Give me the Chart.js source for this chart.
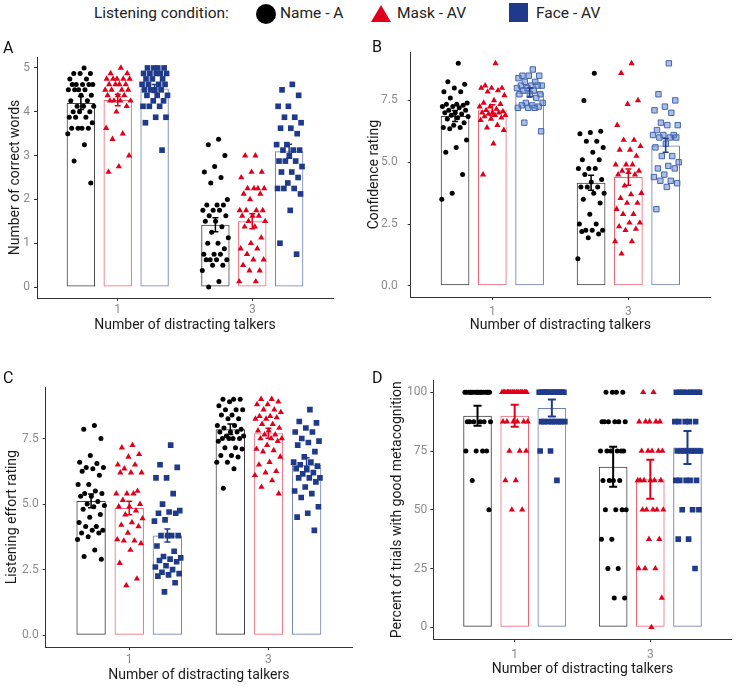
<!DOCTYPE html>
<html>
<head>
<meta charset="utf-8">
<script src="https://cdn.jsdelivr.net/npm/chart.js@4.4.0/dist/chart.umd.min.js"></script>
<style>
  body { margin: 0; background: #fff; width: 741px; height: 687px; position: relative; overflow: hidden; font-family: Roboto, sans-serif; }
  .box { position: absolute; }
  .lab { position: absolute; font-size: 16px; color: #111; line-height: 1; }
  .leg { position: absolute; font-size: 15.5px; color: #222; line-height: 1; white-space: nowrap; }
  .sym { position: absolute; }
</style>
</head>
<body>
<!-- legend -->
<div class="leg" style="left:94px;top:6px">Listening condition:</div>
<div class="sym" style="left:256px;top:4px;width:20px;height:20px;border-radius:50%;background:#000"></div>
<div class="leg" style="left:280px;top:6px">Name - A</div>
<div class="sym" style="left:371px;top:5px;width:0;height:0;border-left:10.5px solid transparent;border-right:10.5px solid transparent;border-bottom:17px solid #E0001B"></div>
<div class="leg" style="left:397px;top:6px">Mask - AV</div>
<div class="sym" style="left:509px;top:3px;width:19px;height:19px;background:#1f3a8a"></div>
<div class="leg" style="left:536px;top:6px">Face - AV</div>

<div class="box" style="left:0;top:35px;width:370px;height:300px"><canvas id="cA" width="370" height="300"></canvas></div>
<div class="box" style="left:366px;top:35px;width:375px;height:300px"><canvas id="cB" width="375" height="300"></canvas></div>
<div class="box" style="left:0;top:335px;width:370px;height:352px"><canvas id="cC" width="370" height="352"></canvas></div>
<div class="box" style="left:370px;top:335px;width:371px;height:352px"><canvas id="cD" width="371" height="352"></canvas></div>

<div class="lab" style="left:3px;top:40px">A</div>
<div class="lab" style="left:372px;top:39px">B</div>
<div class="lab" style="left:3px;top:370px">C</div>
<div class="lab" style="left:372px;top:370px">D</div>

<script>
// categories
const talkers = ['1', '3'];
const talkerPos = [1, 2];
const conditions = ['Name - A', 'Mask - AV', 'Face - AV'];

// Panel A - number of correct words (means / SE per condition: [1 talker, 3 talkers])
const aMeans = [[4.2, 1.42], [4.27, 1.5], [4.53, 3.1]];
const aErrs = [[0.15, 0.16], [0.13, 0.17], [0.09, 0.16]];
const aTicks = [0, 1, 2, 3, 4, 5];
const aName1 = [5, 4.875, 4.875, 4.875, 4.75, 4.75, 4.625, 4.625, 4.625, 4.625, 4.625, 4.5, 4.5, 4.5, 4.5, 4.375, 4.375, 4.25, 4.25, 4.125, 4.125, 4.125, 4, 4, 4, 3.875, 3.875, 3.875, 3.75, 3.625, 3.625, 3.625, 3.625, 3.5, 3.25, 2.875, 2.375];
const aMask1 = [5, 4.875, 4.875, 4.75, 4.75, 4.75, 4.75, 4.75, 4.625, 4.625, 4.625, 4.625, 4.5, 4.5, 4.5, 4.5, 4.375, 4.375, 4.375, 4.25, 4.25, 4.25, 4.25, 4.125, 4, 3.625, 3.5, 3.375, 3, 2.75, 2.625];
const aFace1 = [5, 5, 5, 5, 4.875, 4.875, 4.875, 4.875, 4.875, 4.75, 4.75, 4.75, 4.625, 4.625, 4.625, 4.625, 4.5, 4.5, 4.5, 4.5, 4.375, 4.375, 4.375, 4.25, 4.25, 4.125, 4.125, 4.125, 3.875, 3.875, 3.75, 3.125];
const aName3 = [3.375, 3.25, 3, 2.75, 2.625, 2.5, 2.375, 2, 1.875, 1.875, 1.875, 1.75, 1.75, 1.75, 1.625, 1.625, 1.5, 1.5, 1.375, 1.25, 1.125, 1, 1, 0.875, 0.75, 0.75, 0.75, 0.625, 0.625, 0.625, 0.625, 0.5, 0.5, 0.375, 0.125, 0];
const aMask3 = [3, 3, 2.625, 2.625, 2.5, 2.25, 2.25, 2.25, 2.25, 2.125, 2.125, 2, 1.75, 1.75, 1.75, 1.75, 1.625, 1.625, 1.625, 1.5, 1.5, 1.375, 1.375, 1.125, 1, 0.875, 0.875, 0.75, 0.625, 0.625, 0.5, 0.375, 0.375, 0.125, 0.125];
const aFace3 = [4.625, 4.5, 4.375, 4.125, 4.125, 3.875, 3.875, 3.75, 3.625, 3.625, 3.5, 3.25, 3.25, 3.125, 3.125, 3.125, 3, 2.875, 2.875, 2.875, 2.75, 2.625, 2.625, 2.5, 2.375, 2.25, 2.25, 2.25, 2.125, 1.75, 1, 0.75];

// Panel B - confidence rating
const bMeans = [[6.87, 4.17], [7.1, 4.4], [7.82, 5.68]];
const bErrs = [[0.22, 0.3], [0.22, 0.33], [0.18, 0.28]];
const bTicks = [0, 2.5, 5, 7.5];
const bName1 = [9, 8.25, 8.15, 8, 7.85, 7.85, 7.6, 7.4, 7.35, 7.35, 7.3, 7.25, 7.25, 7.2, 7.1, 7.1, 7, 7, 6.95, 6.9, 6.85, 6.8, 6.75, 6.6, 6.5, 6.4, 6.4, 6.35, 5.9, 5.6, 5.4, 4.5, 3.75, 3.5];
const bMask1 = [9, 8.1, 8, 8, 8, 7.9, 7.85, 7.7, 7.5, 7.4, 7.35, 7.25, 7.25, 7.15, 7.1, 7.05, 7, 7, 7, 6.95, 6.9, 6.9, 6.85, 6.8, 6.75, 6.7, 6.5, 6.4, 6.3, 5.75, 4.5];
const bFace1 = [8.75, 8.5, 8.5, 8.5, 8.4, 8.25, 8.25, 8.1, 8.1, 8.1, 8.1, 8, 8, 7.9, 7.9, 7.75, 7.75, 7.75, 7.6, 7.4, 7.4, 7.3, 7.3, 7.25, 7.2, 7.2, 7.2, 6.6, 6.25];
const bName3 = [8.6, 7.5, 6.25, 6.2, 6.15, 5.85, 5.85, 5.6, 5.4, 5.1, 5.1, 4.75, 4.75, 4.75, 4.5, 4.3, 4.2, 4, 4, 4, 3.75, 3.75, 3.5, 3.35, 2.9, 2.5, 2.5, 2.25, 2.25, 2.25, 2.2, 2.1, 1.95, 1.1];
const bMask3 = [9, 8.6, 7.5, 7.35, 6.5, 5.9, 5.9, 5.65, 5.5, 5.5, 5.25, 4.9, 4.9, 4.9, 4.65, 4.65, 4.6, 4.5, 4.5, 4.05, 3.75, 3.7, 3.55, 3.35, 3.35, 3.1, 2.9, 2.9, 2.55, 2.55, 2.4, 2.3, 2.25, 1.8, 1.8, 1.3];
const bFace3 = [9, 7.75, 7.5, 7.25, 7.1, 7, 6.6, 6.5, 6.5, 6.3, 6.1, 6.1, 6.1, 6, 6, 6, 5.75, 5.6, 5.25, 5.25, 5, 4.85, 4.75, 4.75, 4.5, 4.4, 4.25, 4.25, 4.15, 4, 3.1];

// Panel C - listening effort rating
const cMeans = [[5.12, 7.85], [4.85, 7.7], [3.8, 6.5]];
const cErrs = [[0.26, 0.2], [0.26, 0.19], [0.25, 0.27]];
const cTicks = [0, 2.5, 5, 7.5];
const cName1 = [8, 7.85, 7.5, 6.85, 6.6, 6.55, 6.4, 6.4, 6.35, 6.25, 6.1, 5.75, 5.75, 5.5, 5.4, 5.4, 5.3, 5.3, 5.1, 5, 4.95, 4.9, 4.8, 4.6, 4.5, 4.3, 4.15, 4.15, 4, 4, 3.9, 3.9, 3.75, 3.65, 3.25, 3, 2.9];
const cMask1 = [7.25, 7.15, 6.9, 6.8, 6.5, 6.5, 6.35, 6.2, 6.2, 6.2, 5.5, 5.4, 5.4, 5.4, 5.15, 5, 4.9, 4.9, 4.75, 4.6, 4.45, 4.3, 4.2, 4.15, 3.9, 3.65, 3.6, 3.6, 3.5, 3.25, 2.75, 2.15, 1.9];
const cFace1 = [7.25, 6.5, 6.4, 6, 6, 5.4, 5, 4.75, 4.7, 4.65, 4.65, 4.4, 4.35, 3.8, 3.8, 3.8, 3.8, 3.4, 3.2, 3, 2.95, 2.9, 2.85, 2.8, 2.65, 2.6, 2.5, 2.4, 2.35, 2.3, 2.25, 2, 1.65];
const cName3 = [9, 9, 9, 8.9, 8.75, 8.6, 8.6, 8.6, 8.4, 8.4, 8.25, 8.25, 8, 8, 7.9, 7.85, 7.75, 7.75, 7.75, 7.6, 7.6, 7.5, 7.5, 7.5, 7.5, 7.4, 7.15, 7.15, 7.1, 6.85, 6.85, 6.8, 6.6, 6.6, 6.35, 5.6];
const cMask3 = [9, 9, 8.9, 8.8, 8.8, 8.6, 8.6, 8.5, 8.35, 8.35, 8.3, 8.25, 8.25, 8.05, 8.05, 7.9, 7.8, 7.8, 7.65, 7.65, 7.5, 7.5, 7.5, 7.4, 7.25, 7.1, 7.05, 7, 6.8, 6.6, 6.5, 6.25, 6.2, 6.1, 5.9, 5.65, 5.4];
const cFace3 = [8.6, 8.15, 8.1, 7.9, 7.75, 7.75, 7.5, 7.4, 7.35, 7.25, 7, 6.8, 6.6, 6.6, 6.5, 6.45, 6.35, 6.35, 6.2, 6.15, 6, 6, 6, 5.85, 5.65, 5.5, 5.4, 5.25, 4.9, 4.65, 4.5, 4];

// Panel D - percent of trials with good metacognition
const dMeans = [[90, 68.3], [90, 63], [93.3, 76.5]];
const dErrs = [[4.3, 8.5], [4.7, 8.3], [3.6, 7]];
const dTicks = [0, 25, 50, 75, 100];
const dName1 = [100, 100, 100, 100, 100, 100, 100, 100, 100, 100, 100, 100, 100, 100, 100, 100, 100, 87.5, 87.5, 87.5, 87.5, 87.5, 87.5, 75, 75, 75, 75, 62.5, 50];
const dMask1 = [100, 100, 100, 100, 100, 100, 100, 100, 100, 100, 100, 100, 100, 100, 100, 100, 100, 100, 100, 100, 87.5, 87.5, 87.5, 87.5, 87.5, 87.5, 75, 75, 75, 62.5, 62.5, 50, 50];
const dFace1 = [100, 100, 100, 100, 100, 100, 100, 100, 100, 100, 100, 100, 100, 100, 100, 100, 87.5, 87.5, 87.5, 87.5, 87.5, 87.5, 87.5, 87.5, 75, 75, 62.5];
const dName3 = [100, 100, 100, 100, 87.5, 87.5, 87.5, 87.5, 87.5, 87.5, 75, 75, 75, 75, 75, 75, 62.5, 62.5, 62.5, 62.5, 50, 50, 50, 50, 37.5, 37.5, 25, 25, 12.5, 12.5];
const dMask3 = [100, 100, 87.5, 87.5, 87.5, 87.5, 87.5, 75, 75, 75, 75, 75, 62.5, 62.5, 62.5, 62.5, 62.5, 62.5, 50, 50, 50, 50, 50, 37.5, 37.5, 25, 25, 25, 12.5, 0];
const dFace3 = [100, 100, 100, 100, 100, 100, 100, 100, 87.5, 87.5, 87.5, 87.5, 87.5, 75, 75, 75, 75, 75, 75, 75, 75, 62.5, 62.5, 62.5, 62.5, 62.5, 50, 50, 50, 37.5, 37.5, 25];

// look
const colors = ['#000000', '#E0001B', '#1f3a8a'];
const barEdge = ['rgba(0,0,0,0.75)', 'rgba(224,0,27,0.6)', 'rgba(31,58,138,0.65)'];
const shapes = ['circle', 'triangle', 'rect'];
const radii = [2.5, 3.6, 4];
const catPct = 0.822;
const barPct = 0.77;
const tickGrey = '#8c8c8c';

// spread the points sideways inside their bar (golden ratio sequence)
function jitter(i) {
	return (((i + 1) * 0.6180339887) % 1 - 0.5) * 0.2;
}

/** draws the mean +/- SE bars on top of everything */
const errorBars = {
	id: 'errorBars',
	afterDatasetsDraw(chart, args, opts) {
		const ctx = chart.ctx;
		const y = chart.scales.y;
		chart.data.datasets.forEach(function(ds, i) {
			if (!ds.err) return;
			const meta = chart.getDatasetMeta(i);
			meta.data.forEach(function(bar, j) {
				const m = ds.data[j].y, e = ds.err[j];
				const top = y.getPixelForValue(m + e);
				const bot = y.getPixelForValue(m - e);
				ctx.save();
				ctx.strokeStyle = ds.errColor;
				ctx.lineWidth = opts.width;
				ctx.beginPath();
				ctx.moveTo(bar.x, top); ctx.lineTo(bar.x, bot);
				ctx.moveTo(bar.x - opts.cap, top); ctx.lineTo(bar.x + opts.cap, top);
				ctx.moveTo(bar.x - opts.cap, bot); ctx.lineTo(bar.x + opts.cap, bot);
				ctx.stroke();
				ctx.restore();
			});
		});
	}
};

function makePanel(id, p) {
	const datasets = [];
	for (let k = 0; k < 3; k++) {
		datasets.push({
			type: 'bar',
			label: conditions[k],
			data: talkerPos.map(function(x, t) { return {x: x, y: p.means[k][t]}; }),
			err: p.errs[k],
			errColor: colors[k],
			backgroundColor: 'rgba(255,255,255,0)',
			borderColor: barEdge[k],
			borderWidth: 1,
			borderSkipped: false,
			categoryPercentage: catPct,
			barPercentage: barPct,
			order: 1
		});
	}
	for (let k = 0; k < 3; k++) {
		const pts = [];
		for (let t = 0; t < 2; t++) {
			const center = talkerPos[t] + (k - 1) * catPct / 3;
			p.points[k][t].forEach(function(v, i) { pts.push({x: center + jitter(i), y: v}); });
		}
		const faded = p.fadeFace && k === 2;
		datasets.push({
			type: 'scatter',
			label: conditions[k] + ' points',
			data: pts,
			pointStyle: shapes[k],
			pointRadius: faded ? 3.8 : radii[k],
			backgroundColor: faded ? 'rgba(90,126,200,0.5)' : colors[k],
			borderColor: faded ? '#4466b0' : colors[k],
			borderWidth: faded ? 1 : 0,
			order: 0
		});
	}

	new Chart(document.getElementById(id), {
		type: 'bar',
		data: { datasets: datasets },
		plugins: [errorBars],
		options: {
			responsive: false,
			animation: false,
			events: [],
			layout: { padding: { top: p.pt, right: p.pr, left: 0, bottom: 0 } },
			plugins: {
				legend: { display: false },
				tooltip: { enabled: false },
				errorBars: { width: p.ew, cap: p.cap }
			},
			scales: {
				x: {
					type: 'linear',
					min: 0.4,
					max: 2.6,
					offset: false,
					afterBuildTicks: function(s) { s.ticks = talkerPos.map(function(v) { return {value: v}; }); },
					afterFit: function(s) { s.height = p.xh; },
					grid: { display: true, drawOnChartArea: false, drawTicks: true, tickLength: 3, color: '#333', offset: false },
					border: { display: true, color: '#333', width: 1 },
					ticks: {
						color: tickGrey,
						font: { family: 'Roboto', size: 12 },
						padding: p.xtp,
						maxRotation: 0,
						callback: function(v) { return talkers[talkerPos.indexOf(v)]; }
					},
					title: {
						display: true,
						text: 'Number of distracting talkers',
						color: '#1a1a1a',
						font: { family: 'Roboto', size: 14 },
						padding: { top: 0, bottom: p.xtb }
					}
				},
				y: {
					type: 'linear',
					min: p.yMin,
					max: p.yMax,
					afterBuildTicks: function(s) { s.ticks = p.ticks.map(function(v) { return {value: v}; }); },
					afterFit: function(s) { s.width = p.yw; },
					grid: { display: true, drawOnChartArea: false, drawTicks: true, tickLength: 3, color: '#333' },
					border: { display: true, color: '#333', width: 1 },
					ticks: {
						color: tickGrey,
						font: { family: 'Roboto', size: 12 },
						padding: p.ytp,
						callback: function(v) { return v.toFixed(p.dec); }
					},
					title: {
						display: true,
						text: p.title,
						color: '#1a1a1a',
						font: { family: 'Roboto', size: 14 },
						padding: { top: p.ytt, bottom: 0 }
					}
				}
			}
		}
	});
}

makePanel('cA', {
	means: aMeans, errs: aErrs, ticks: aTicks, dec: 0, yMin: -0.25, yMax: 5.25,
	points: [[aName1, aName3], [aMask1, aMask3], [aFace1, aFace3]],
	title: 'Number of correct words',
	pt: 22, pr: 37, yw: 37, xh: 37, xtp: 2, xtb: 1.6, ytp: 4, ytt: 6.6, ew: 1.5, cap: 3
});
// canvas B starts 4px further left so its axis title has room beside the tick labels
makePanel('cB', {
	means: bMeans, errs: bErrs, ticks: bTicks, dec: 1, yMin: -0.45, yMax: 9.45,
	points: [[bName1, bName3], [bMask1, bMask3], [bFace1, bFace3]], fadeFace: true,
	title: 'Confidence rating',
	pt: 7.4, pr: 31, yw: 44.7, xh: 38, xtp: 5, xtb: 1.6, ytp: 10, ytt: 0, ew: 1.5, cap: 3
});
makePanel('cC', {
	means: cMeans, errs: cErrs, ticks: cTicks, dec: 1, yMin: -0.45, yMax: 9.45,
	points: [[cName1, cName3], [cMask1, cMask3], [cFace1, cFace3]],
	title: 'Listening effort rating',
	pt: 52.4, pr: 18, yw: 45.7, xh: 40, xtp: 3, xtb: 3.6, ytp: 4, ytt: 3.6, ew: 1.5, cap: 3
});
makePanel('cD', {
	means: dMeans, errs: dErrs, ticks: dTicks, dec: 0, yMin: -5, yMax: 105,
	points: [[dName1, dName3], [dMask1, dMask3], [dFace1, dFace3]],
	title: 'Percent of trials with good metacognition',
	pt: 45.5, pr: 9.3, yw: 63.3, xh: 48, xtp: 6, xtb: 9.6, ytp: 3, ytt: 18.6, ew: 2, cap: 4
});
</script>
</body>
</html>
